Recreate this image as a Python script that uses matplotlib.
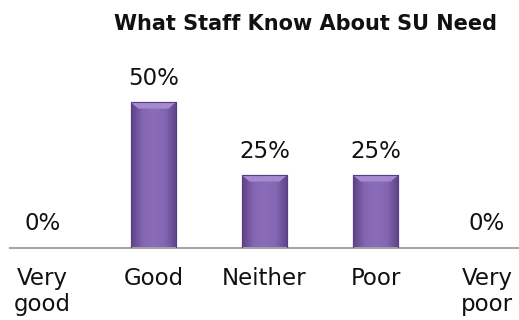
import matplotlib.pyplot as plt
import numpy as np
from matplotlib.colors import LinearSegmentedColormap

categories = ['Very\ngood', 'Good', 'Neither', 'Poor', 'Very\npoor']
shares = [0.0, 0.50, 0.25, 0.25, 0.0]
value_labels = ['0%', '50%', '25%', '25%', '0%']

fig = plt.figure(figsize=(5.19, 3.2), dpi=100)
ax = fig.add_axes([10 / 519, 72 / 320, 509 / 519, 175 / 320])

x = np.arange(len(categories))
bars = ax.bar(x, shares, width=0.41, color='#7c5ca8', edgecolor='#5a3e82', linewidth=0.8, zorder=2)

# horizontal shading on each bar, darker at the sides
purple = LinearSegmentedColormap.from_list('purple', ['#5e4387', '#8466b2', '#8a6cb8', '#8466b2', '#5e4387'])
grad = np.linspace(0, 1, 64).reshape(1, -1)
for b in bars:
    h = b.get_height()
    if h <= 0:
        continue
    x0, w = b.get_x(), b.get_width()
    im = ax.imshow(grad, cmap=purple, aspect='auto', extent=(x0, x0 + w, 0, h), zorder=2.5)
    im.set_clip_path(b)
    # lighter bevel along the top edge
    bev = 0.022
    ax.fill([x0, x0 + w, x0 + w - 0.07, x0 + 0.07], [h, h, h - bev, h - bev],
            color='#a58ad0', zorder=3, lw=0)
    ax.plot([x0, x0 + w, x0 + w, x0, x0], [0, 0, h, h, 0], color='#5a3e82', lw=0.8, zorder=3.5)

for xi, v, lab in zip(x, shares, value_labels):
    ax.annotate(lab, (xi, v), xytext=(0, 9), textcoords='offset points',
                ha='center', va='bottom', fontsize=16.5, color='#111111')

ax.set_xlim(-0.29, 4.29)
ax.set_ylim(0, 0.6)
ax.set_xticks(x)
ax.set_xticklabels(categories, fontsize=16.5, color='#111111', linespacing=1.12)
ax.tick_params(axis='x', length=0, pad=14)
ax.get_xticklabels()[-1].set_multialignment('right')
ax.set_yticks([])
for s in ['top', 'right', 'left']:
    ax.spines[s].set_visible(False)
ax.spines['bottom'].set_color('#a6a6a6')
ax.spines['bottom'].set_linewidth(1.5)

fig.text(306 / 519, 1 - 24 / 320, 'What Staff Know About SU Need', ha='center', va='center',
         fontsize=15, fontweight='bold', color='#111111')

fig.savefig('out.png', dpi=100)
